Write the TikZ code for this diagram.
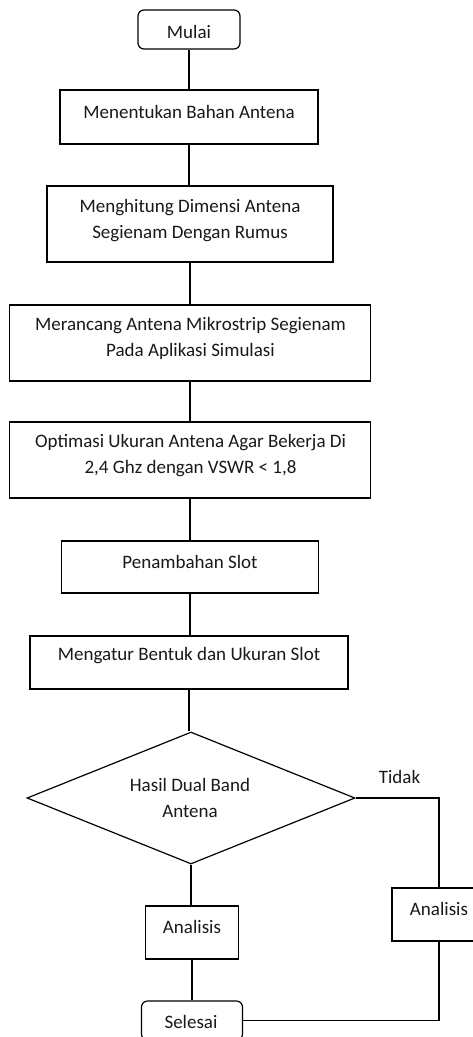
\documentclass[tikz,border=0pt]{standalone}
\usepackage{fontspec}
\setmainfont{Carlito}
\usetikzlibrary{shapes.geometric}
\begin{document}
\begin{tikzpicture}[x=1pt,y=-1pt,
  line width=1.2pt,
  stepbox/.style={draw, rectangle, inner sep=0pt},
  termbox/.style={draw, rectangle, rounded corners=6pt, inner sep=0pt},
  decbox/.style={draw, diamond, inner sep=0pt},
  lbl/.style={font=\fontsize{19}{26}\selectfont, align=center, inner sep=0pt, text=black!90},
  conn/.style={line width=1.3pt}]
\useasboundingbox (0,0) rectangle (473,1037);
\fill[white] (0,0) rectangle (473,1037);
\clip (0,0) rectangle (473,1037);
% boxes
\node[termbox, minimum width=102pt, minimum height=39pt] (mulai) at (189,29.5) {};
\node[stepbox, minimum width=258pt, minimum height=54pt] (b1) at (189,117) {};
\node[stepbox, minimum width=286pt, minimum height=76pt] (b2) at (190,224) {};
\node[stepbox, minimum width=361pt, minimum height=76pt] (b3) at (190,343) {};
\node[stepbox, minimum width=361pt, minimum height=76pt] (b4) at (190,460) {};
\node[stepbox, minimum width=257pt, minimum height=52pt] (b5) at (190,567) {};
\node[stepbox, minimum width=318pt, minimum height=53pt] (b6) at (189,662.5) {};
\node[decbox, minimum width=328pt, minimum height=132pt] (dec) at (191,798) {};
\node[stepbox, minimum width=93pt, minimum height=53pt] (an1) at (192,932.5) {};
\node[stepbox, minimum width=94pt, minimum height=53pt] (an2) at (439,914.5) {};
\node[termbox, minimum width=101pt, minimum height=39pt] (sel) at (192,1020.5) {};
% texts
\node[lbl] (t0) at (189,32) {Mulai};
\node[lbl] (t1) at (189,112) {Menentukan Bahan Antena};
\node[lbl] (t2) at (190,221) {Menghitung Dimensi Antena\\Segienam Dengan Rumus};
\node[lbl] (t3) at (190.5,338) {Merancang Antena Mikrostrip Segienam\\Pada Aplikasi Simulasi};
\node[lbl] (t4) at (190.5,455.5) {Optimasi Ukuran Antena Agar Bekerja Di\\2,4 Ghz dengan VSWR < 1,8};
\node[lbl] (t5) at (190,562) {Penambahan Slot};
\node[lbl] (t6) at (189,656) {Mengatur Bentuk dan Ukuran Slot};
\node[lbl] (t7) at (190,797.5) {Hasil Dual Band\\Antena};
\node[lbl] (t8) at (192,927) {Analisis};
\node[lbl] (t9) at (439,909) {Analisis};
\node[lbl] (t10) at (191,1022) {Selesai};
\node[lbl] (tidak) at (399.5,777) {Tidak};
% connectors
\draw[conn] (mulai.south) -- (mulai.south |- b1.north);
\draw[conn] (b1.south) -- (b1.south |- b2.north);
\draw[conn] (b2.south) -- (b2.south |- b3.north);
\draw[conn] (b3.south) -- (b3.south |- b4.north);
\draw[conn] (b4.south) -- (b4.south |- b5.north);
\draw[conn] (b5.south) -- (b5.south |- b6.north);
\draw[conn] (b6.south) -- (b6.south |- dec.north);
\draw[conn] (dec.south) -- (dec.south |- an1.north);
\draw[conn] (an1.south) -- (an1.south |- sel.north);
\draw[conn] (dec.east) -| (an2.north);
\draw[conn] (an2.south) |- (sel.east);
\end{tikzpicture}
\end{document}
